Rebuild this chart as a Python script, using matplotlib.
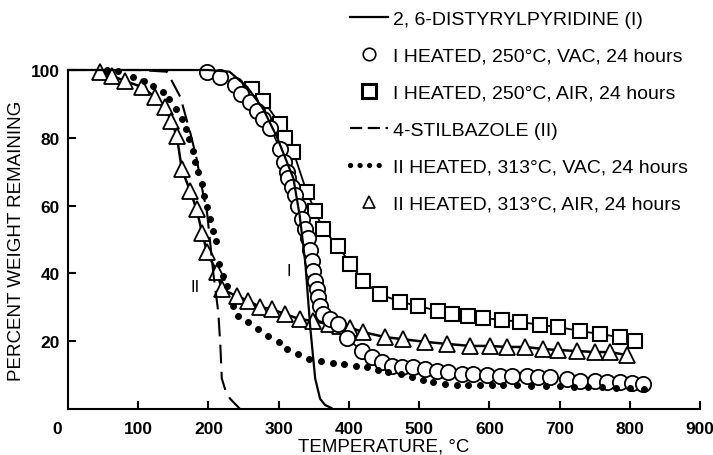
import matplotlib
matplotlib.use("Agg")
import matplotlib.pyplot as plt
from matplotlib.lines import Line2D
from matplotlib.transforms import ScaledTranslation

plt.rcParams['font.family'] = ['Liberation Sans', 'DejaVu Sans']

# 2,6-distyrylpyridine (I), solid curve
t_i = [0, 100, 200, 230, 255, 278, 298, 321, 330, 338, 345, 352, 359, 366, 375]
w_i = [100, 100, 100, 99.5, 95, 88.5, 80, 68, 57, 43, 24, 9, 3, 1.2, 0.3]

# 4-stilbazole (II), dashed curve
t_ii = [0, 100, 141, 160, 174, 183, 191, 198, 207, 214, 217, 219, 225, 231, 245]
w_ii = [100, 100, 99.5, 92, 81.6, 74, 65, 58, 40, 28.6, 18.6, 9, 5, 3, 0]

# I heated, 250 C, vac (circles)
t_ivac = [198, 217, 238, 247, 259, 269, 278, 288, 302, 307, 312, 313, 319, 323, 328,
          333, 338, 342, 345, 347, 349, 352, 354, 356, 359, 363, 373, 385, 397, 419,
          433, 447, 461, 476, 491, 509, 525, 541, 561, 577, 597, 615, 632, 654, 670,
          687, 710, 729, 751, 768, 786, 803, 819]
w_ivac = [99.4, 98, 95.6, 93, 90.5, 88, 85.5, 83, 76.7, 73, 70, 68, 65.5, 63, 60,
          56, 53, 50.5, 47, 43.6, 40.7, 37.8, 35.4, 33, 30.4, 28, 26.5, 25, 21, 17,
          15.3, 13.9, 12.7, 12.4, 12.4, 11.8, 11.2, 10.9, 10.3, 10.3, 10.1, 9.7, 9.7, 9.7, 9.4,
          9.4, 8.8, 8.3, 8.3, 8.1, 8, 7.8, 7.4]

# I heated, 250 C, air (squares)
t_iair = [262, 278, 302, 309, 321, 340, 352, 363, 385, 402, 420, 444, 473, 499,
          527, 547, 570, 591, 618, 644, 672, 698, 729, 758, 786, 808]
w_iair = [94.4, 91, 84, 80, 75.8, 64, 58.4, 53, 48, 42.8, 37.8, 33.9, 31.6, 30.4,
          28.9, 28, 27.4, 26.8, 26.3, 25.7, 24.8, 24.2, 23, 22.1, 21.2, 20]

# II heated, 313 C, vac (dots)
t_iivac = [55, 71, 93, 108, 121, 135, 144, 154, 162, 168, 172, 178, 181, 185, 191,
           194, 198, 202, 207, 211, 215, 221, 226, 235, 242, 257, 271, 285, 300, 312,
           328, 343, 360, 377, 393, 410, 426, 442, 456, 474, 490, 506, 520, 537, 554,
           570, 587, 604, 620, 640, 660, 680, 700, 720, 740, 760, 780, 800, 820]
w_iivac = [100, 99.7, 98, 96.8, 95.3, 93.5, 91.4, 88.5, 85.5, 82.6, 79.6, 76, 72.9, 69.9, 66.4,
           62.8, 59.6, 56, 52.5, 49.6, 42.8, 39.2, 36.3, 30.4, 27.4, 25.7, 23.6, 21.5, 19.8, 17.7,
           16.2, 14.7, 14.2, 13.6, 13.3, 12.7, 12.4, 11.5, 10.9, 10.3, 9.4, 8.6, 8, 7.4, 7.1,
           7.1, 7.1, 7.2, 7.2, 7, 6.9, 6.8, 6.7, 6.6, 6.5, 6.4, 6.3, 6.1, 6]

# II heated, 313 C, air (triangles)
t_iiair = [46, 62, 81, 105, 124, 138, 147, 155, 162, 174, 183, 191, 198, 212, 219,
           240, 257, 274, 290, 309, 330, 349, 371, 387, 402, 420, 452, 477, 509, 540,
           573, 601, 625, 651, 677, 698, 725, 751, 772, 796]
w_iiair = [99.4, 98.3, 96.8, 95, 92, 89, 85, 80.5, 70.8, 64.3, 59, 52, 46.3, 40.4, 35.4,
           33.3, 31.9, 30, 29.5, 28, 26.5, 26, 25, 24.5, 24, 22.7, 21.2, 20.6, 19.8, 19.2,
           18.6, 18.6, 18.3, 18.3, 17.7, 17.4, 17.1, 16.8, 16.8, 15.9]

labels = ["2, 6-DISTYRYLPYRIDINE (I)",
          "I HEATED, 250°C, VAC, 24 hours",
          "I HEATED, 250°C, AIR, 24 hours",
          "4-STILBAZOLE (II)",
          "II HEATED, 313°C, VAC, 24 hours",
          "II HEATED, 313°C, AIR, 24 hours"]

fig = plt.figure(figsize=(7.13, 4.56), dpi=100)
ax = fig.add_axes([68 / 713, 46 / 456, 632 / 713, 339 / 456])

ax.plot(t_iair, w_iair, '-', color='black', lw=1.3, marker='s', ms=10.5,
        mfc='white', mec='black', mew=1.5, clip_on=False, zorder=3)
ax.plot(t_iiair, w_iiair, '-', color='black', lw=1.8, marker='^', ms=11,
        mfc='white', mec='black', mew=1.3, clip_on=False, zorder=3)
ax.plot(t_ivac, w_ivac, '-', color='black', lw=1.2, marker='o', ms=11,
        mfc='white', mec='black', mew=1.3, clip_on=False, zorder=4)
ax.plot(t_iivac, w_iivac, 'o', color='black', ms=4, clip_on=False, zorder=5)
ax.plot(t_i, w_i, '-', color='black', lw=1.6, clip_on=False, zorder=6)
ax.plot(t_ii, w_ii, color='black', lw=1.5, dashes=(9, 4), clip_on=False, zorder=6)

ax.text(315, 41, "I", fontsize=12, ha='center', va='center')
ax.text(181, 36, "II", fontsize=12, ha='center', va='center')

ax.set_xlim(0, 900)
ax.set_ylim(0, 100)
ax.set_xticks([0, 100, 200, 300, 400, 500, 600, 700, 800, 900])
ax.set_yticks([20, 40, 60, 80, 100])
for s in ['top', 'right']:
    ax.spines[s].set_visible(False)
for s in ['left', 'bottom']:
    ax.spines[s].set_linewidth(1.5)
ax.tick_params(direction='in', length=6, width=1.5, labelsize=12.5)
ax.tick_params(axis='x', pad=9)
ax.tick_params(axis='y', pad=6)
for lab in ax.get_xticklabels() + ax.get_yticklabels():
    lab.set_fontweight('bold')
# the "0" sits a little left of the origin
zero = ax.get_xticklabels()[0]
zero.set_transform(zero.get_transform() + ScaledTranslation(-8 / 72, 0, fig.dpi_scale_trans))
ax.xaxis.get_major_ticks()[0].tick1line.set_visible(False)

ax.set_xlabel("TEMPERATURE, °C", fontsize=13.5, labelpad=1)
ax.set_ylabel("PERCENT WEIGHT REMAINING", fontsize=13.5, labelpad=4)

handles = [
    Line2D([], [], color='black', lw=1.6),
    Line2D([], [], ls='none', marker='o', ms=9, mfc='white', mec='black', mew=1.2),
    Line2D([], [], ls='none', marker='s', ms=10, mfc='white', mec='black', mew=2.2),
    Line2D([], [], color='black', lw=1.6, dashes=(5.5, 2.5)),
    Line2D([], [], color='black', lw=3.8, dashes=(0.01, 1.8), dash_capstyle='round'),
    Line2D([], [], ls='none', marker='^', ms=9, mfc='white', mec='black', mew=1.2),
]
fig.legend(handles, labels, loc='upper left', bbox_to_anchor=(350 / 713, 1 - 11 / 456),
           frameon=False, fontsize=14, handlelength=1.95, handletextpad=0.26,
           labelspacing=1.0, borderpad=0, borderaxespad=0)

fig.savefig("out.png", dpi=100)
